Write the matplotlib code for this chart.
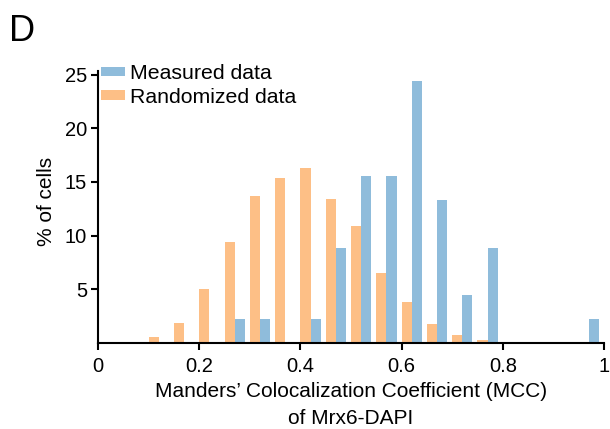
import numpy as np
from matplotlib import pyplot as plt

plt.rcParams['font.family'] = ['Liberation Sans', 'DejaVu Sans']

# histogram bins (left edges, width 0.05)
bin_left = [0.10, 0.15, 0.20, 0.25, 0.30, 0.35, 0.40, 0.45, 0.50,
            0.55, 0.60, 0.65, 0.70, 0.75, 0.80, 0.85, 0.90, 0.95]
measured = [0, 0, 0, 2.22, 2.22, 0, 2.22, 8.89, 15.56,
            15.56, 24.44, 13.33, 4.44, 8.89, 0, 0, 0, 2.22]
randomized = [0.55, 1.9, 5.0, 9.4, 13.7, 15.4, 16.3, 13.4, 10.9,
              6.5, 3.85, 1.8, 0.75, 0.3, 0, 0, 0, 0]
xticks = [0, 0.2, 0.4, 0.6, 0.8, 1.0]
xtick_labels = ['0', '0.2', '0.4', '0.6', '0.8', '1']
yticks = [5, 10, 15, 20, 25]

blue = '#8fbcdb'
orange = '#fdbf86'


def main():
    fig = plt.figure(figsize=(6.1, 4.29), dpi=100)
    ax = fig.add_axes([0.161, 0.2005, 0.829, 0.633])

    left = np.array(bin_left)
    w = 0.02
    ax.bar(left + 0.03, measured, width=w, color=blue, label='Measured data')
    ax.bar(left + 0.01, randomized, width=w, color=orange,
           label='Randomized data')

    ax.set_xlim(0, 1.0)
    ax.set_ylim(0, 25.3)
    ax.set_xticks(xticks, xtick_labels)
    ax.set_yticks(yticks)
    ax.tick_params(labelsize=14.5, width=1.5, length=5, direction='out')
    ax.tick_params(axis='x', pad=5)
    ax.tick_params(axis='y', pad=3)
    for s in ['top', 'right']:
        ax.spines[s].set_visible(False)
    for s in ['left', 'bottom']:
        ax.spines[s].set_linewidth(1.5)

    ax.set_xlabel("Manders\u2019 Colocalization Coefficient (MCC)\nof Mrx6-DAPI",
                  fontsize=15, labelpad=4.5, linespacing=1.55)
    ax.set_ylabel('% of cells', fontsize=15)
    ax.yaxis.set_label_coords(-0.083, 0.52)

    ax.legend(loc='upper left', bbox_to_anchor=(0.165, 0.85),
              bbox_transform=fig.transFigure, frameon=False, fontsize=15.3,
              handlelength=1.15, handleheight=0.3, handletextpad=0.25,
              labelspacing=0.2, borderpad=0, borderaxespad=0)

    fig.text(0.014, 0.905, 'D', fontsize=26)

    fig.savefig('out.png', dpi=100)


if __name__ == "__main__":
    main()
